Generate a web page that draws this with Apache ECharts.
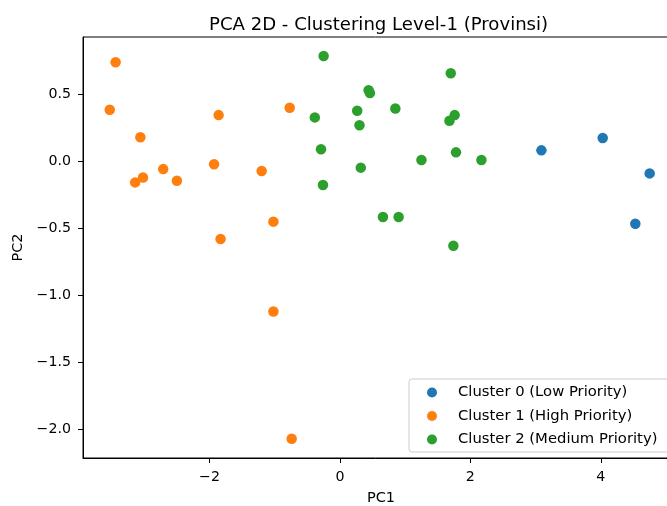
<!DOCTYPE html>
<html>
<head>
<meta charset="utf-8">
<script src="https://cdn.jsdelivr.net/npm/echarts@6/dist/echarts.min.js"></script>
<style>html,body{margin:0;padding:0;background:#fff}#c{width:667px;height:506px}</style>
</head>
<body>
<div id="c"></div>
<script>
const seriesNames = ['Cluster 0 (Low Priority)', 'Cluster 1 (High Priority)', 'Cluster 2 (Medium Priority)'];
const cluster0 = [[3.09, 0.082], [4.03, 0.174], [4.75, -0.09], [4.53, -0.466]];
const cluster1 = [
  [-3.44, 0.74], [-3.53, 0.385], [-1.86, 0.345], [-0.77, 0.40], [-3.06, 0.18],
  [-3.14, -0.157], [-3.02, -0.12], [-2.71, -0.058], [-2.50, -0.145], [-1.93, -0.022],
  [-1.20, -0.072], [-1.02, -0.45], [-1.83, -0.58], [-1.02, -1.12], [-0.74, -2.07]
];
const cluster2 = [
  [-0.25, 0.786], [-0.385, 0.328], [0.265, 0.378], [0.44, 0.53], [0.46, 0.51],
  [0.30, 0.27], [-0.29, 0.09], [-0.26, -0.177], [1.70, 0.657], [0.85, 0.395],
  [1.68, 0.303], [1.76, 0.345], [0.32, -0.047], [1.25, 0.01], [1.78, 0.067],
  [2.17, 0.01], [0.66, -0.416], [0.90, -0.416], [1.74, -0.63]
];
const xTicks = [-2, 0, 2, 4];
const yTicks = [-2.0, -1.5, -1.0, -0.5, 0.0, 0.5];
const xLimits = [-3.94, 5.2];
const yLimits = [-2.214, 0.928];
const colors = ['#1f77b4', '#ff7f0e', '#2ca02c'];

const font = 'DejaVu Sans';
const chart = echarts.init(document.getElementById('c'), null, {renderer: 'canvas'});
const fmt = (v, d) => Number(v).toFixed(d).replace('-', '\u2212');
chart.setOption({
  animation: false,
  color: colors,
  textStyle: {fontFamily: font},
  title: {
    text: 'PCA 2D - Clustering Level-1 (Provinsi)',
    left: 204, top: 11,
    textStyle: {fontFamily: font, fontSize: 18.1, fontWeight: 'normal', color: '#000'}
  },
  grid: {left: 83, top: 37, right: -12, bottom: 48, outerBoundsMode: 'none', containLabel: false,
    show: true, borderColor: '#000', borderWidth: 1, backgroundColor: 'transparent'},
  xAxis: {
    type: 'value', min: xLimits[0], max: xLimits[1],
    name: 'PC1', nameLocation: 'middle', nameGap: 33,
    nameTextStyle: {fontFamily: font, fontSize: 14.5, color: '#000'},
    axisLine: {show: true, onZero: false, lineStyle: {color: '#000', width: 1}},
    axisTick: {show: true, length: 5, lineStyle: {color: '#000'}, customValues: xTicks},
    axisLabel: {fontFamily: font, fontSize: 14.2, color: '#000', margin: 12, customValues: xTicks, formatter: v => fmt(v, 0)},
    splitLine: {show: false}
  },
  yAxis: {
    type: 'value', min: yLimits[0], max: yLimits[1],
    name: 'PC2', nameLocation: 'middle', nameGap: 49, nameRotate: 90,
    nameTextStyle: {fontFamily: font, fontSize: 14.5, color: '#000'},
    axisLine: {show: true, onZero: false, lineStyle: {color: '#000', width: 1}},
    axisTick: {show: true, length: 5, lineStyle: {color: '#000'}, customValues: yTicks},
    axisLabel: {fontFamily: font, fontSize: 14.2, color: '#000', margin: 12, customValues: yTicks, formatter: v => fmt(v, 1)},
    splitLine: {show: false}
  },
  legend: {
    orient: 'vertical', left: 409, top: 379,
    data: seriesNames, icon: 'circle',
    itemWidth: 28, itemHeight: 10, itemGap: 8.5,
    padding: [6, 20, 5, 18],
    backgroundColor: 'rgba(255,255,255,0.8)', borderColor: '#ccc', borderWidth: 1, borderRadius: 3,
    textStyle: {fontFamily: font, fontSize: 14.8, color: '#000', padding: [0, 0, 0, 7]}
  },
  series: [cluster0, cluster1, cluster2].map((d, i) => ({
    type: 'scatter', name: seriesNames[i], data: d, symbolSize: 10.5,
    itemStyle: {color: colors[i], opacity: 1}
  }))
});
</script>
</body>
</html>
